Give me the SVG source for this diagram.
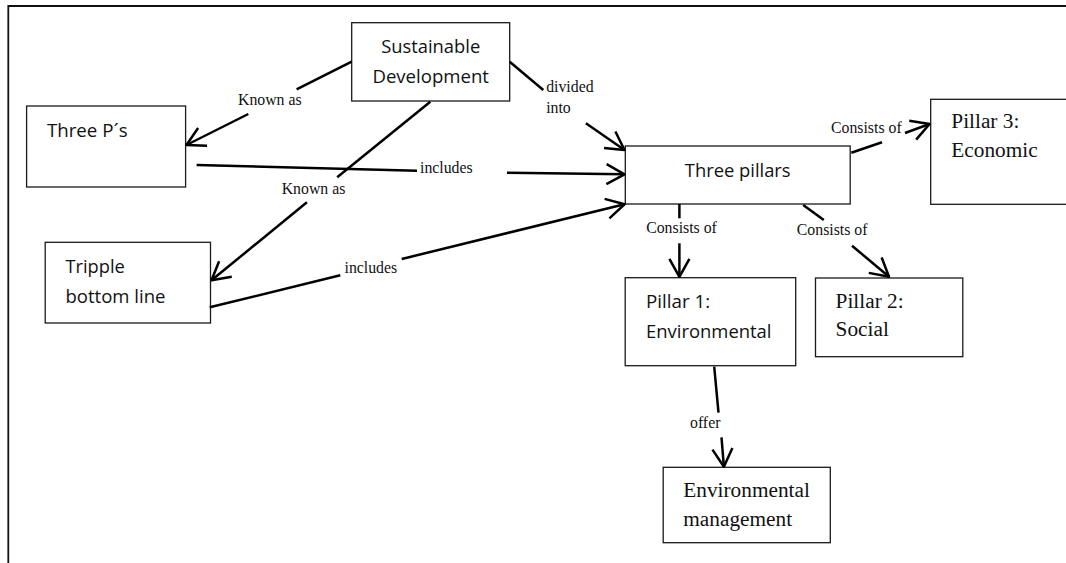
<svg xmlns="http://www.w3.org/2000/svg" width="1066" height="563" viewBox="0 0 1066 563">
<style>
.box{fill:#fff;stroke:#1a1a1a;stroke-width:1.3}
.sans{font-family:"Open Sans","Liberation Sans",sans-serif;font-size:18.5px;fill:#111}
.serif{font-family:"Liberation Serif","Times New Roman",serif;font-size:21.3px;fill:#111}
.lbl{font-family:"Liberation Serif","Times New Roman",serif;font-size:15.8px;fill:#111}
.con path{fill:none;stroke:#000;stroke-width:2.5}
.frame{stroke:#111;stroke-width:1.8;fill:none}
</style>
<defs>
<marker id="arr" markerUnits="userSpaceOnUse" markerWidth="26" markerHeight="26" viewBox="-23 -13 26 26" refX="0" refY="0" orient="auto">
<path d="M-18,-10 L0,0 L-18,10" fill="none" stroke="#000" stroke-width="2.5" stroke-linejoin="round"/>
</marker>
</defs>
<rect width="1066" height="563" fill="#fff"/>
<path class="frame" d="M8.3,563 L8.3,6 L1066,6"/>

<g id="sustainable-development">
<rect class="box" x="351.7" y="22.7" width="158" height="78.3"/>
<text class="sans" x="430.7" y="53" text-anchor="middle" textLength="99" lengthAdjust="spacingAndGlyphs">Sustainable</text>
<text class="sans" x="430.7" y="83" text-anchor="middle" textLength="116.6" lengthAdjust="spacingAndGlyphs">Development</text>
</g>
<g id="three-ps">
<rect class="box" x="26.6" y="106" width="159" height="81"/>
<text class="sans" x="46.9" y="137" textLength="80.7" lengthAdjust="spacingAndGlyphs">Three P´s</text>
</g>
<g id="tripple-bottom-line">
<rect class="box" x="45.2" y="242.3" width="165.3" height="80.7"/>
<text class="sans" x="65.5" y="272.7" textLength="59.3" lengthAdjust="spacingAndGlyphs">Tripple</text>
<text class="sans" x="65.5" y="302.7" textLength="100" lengthAdjust="spacingAndGlyphs">bottom line</text>
</g>
<g id="three-pillars">
<rect class="box" x="625.3" y="146" width="224.9" height="58"/>
<text class="sans" x="737.7" y="176.7" text-anchor="middle" textLength="105.8" lengthAdjust="spacingAndGlyphs">Three pillars</text>
</g>
<g id="pillar-3">
<rect class="box" x="930.7" y="99.3" width="200" height="105"/>
<text class="serif" x="951.3" y="128.3">Pillar 3:</text>
<text class="serif" x="951.3" y="157.3">Economic</text>
</g>
<g id="pillar-1">
<rect class="box" x="625.2" y="277.7" width="170.5" height="88"/>
<text class="sans" x="646" y="308.3" textLength="64.1" lengthAdjust="spacingAndGlyphs">Pillar 1:</text>
<text class="sans" x="646" y="338.3" textLength="125.5" lengthAdjust="spacingAndGlyphs">Environmental</text>
</g>
<g id="pillar-2">
<rect class="box" x="815.5" y="278" width="147.3" height="78.7"/>
<text class="serif" x="835.6" y="308.3">Pillar 2:</text>
<text class="serif" x="835.6" y="336">Social</text>
</g>
<g id="environmental-management">
<rect class="box" x="663.2" y="467.3" width="167.1" height="75.4"/>
<text class="serif" x="683.3" y="497.3">Environmental</text>
<text class="serif" x="683.3" y="526">management</text>
</g>

<g id="connectors" class="con">
<path d="M351.7,61.7 L296.6,89.4"/>
<path d="M248.3,114 L186.5,145" marker-end="url(#arr)"/>
<path d="M430.3,101.7 L337.2,177.3"/>
<path d="M306.9,202.3 L211.5,280.3" marker-end="url(#arr)"/>
<path d="M196.6,165 L417,170.7"/>
<path d="M507,172.7 L624.5,174.3" marker-end="url(#arr)"/>
<path d="M209.7,307.3 L340.3,275.3"/>
<path d="M401.7,259 L624.5,204.3" marker-end="url(#arr)"/>
<path d="M509.7,61.7 L543.3,90"/>
<path d="M585.9,123.3 L624.5,150" marker-end="url(#arr)"/>
<path d="M851.3,152.7 L882,142.3"/>
<path d="M905,133 L929.6,124" marker-end="url(#arr)"/>
<path d="M679.4,204 L679.4,218.3"/>
<path d="M679.4,243.3 L679.4,276.8" marker-end="url(#arr)"/>
<path d="M803.2,205 L823.8,220"/>
<path d="M852,245.7 L889,276.8" marker-end="url(#arr)"/>
<path d="M714.2,366.7 L718.5,412.7"/>
<path d="M721.5,437.3 L723.9,466.8" marker-end="url(#arr)"/>
</g>
<g id="labels">
<text class="lbl" x="238" y="105.3">Known as</text>
<text class="lbl" x="281.7" y="194">Known as</text>
<text class="lbl" x="420" y="173.3">includes</text>
<text class="lbl" x="344.5" y="273.3">includes</text>
<text class="lbl" x="546.2" y="91.7">divided</text>
<text class="lbl" x="546.2" y="112.7">into</text>
<text class="lbl" x="831" y="132.7">Consists of</text>
<text class="lbl" x="646.2" y="233.3">Consists of</text>
<text class="lbl" x="796.8" y="235">Consists of</text>
<text class="lbl" x="690" y="428.3">offer</text>
</g>
</svg>
